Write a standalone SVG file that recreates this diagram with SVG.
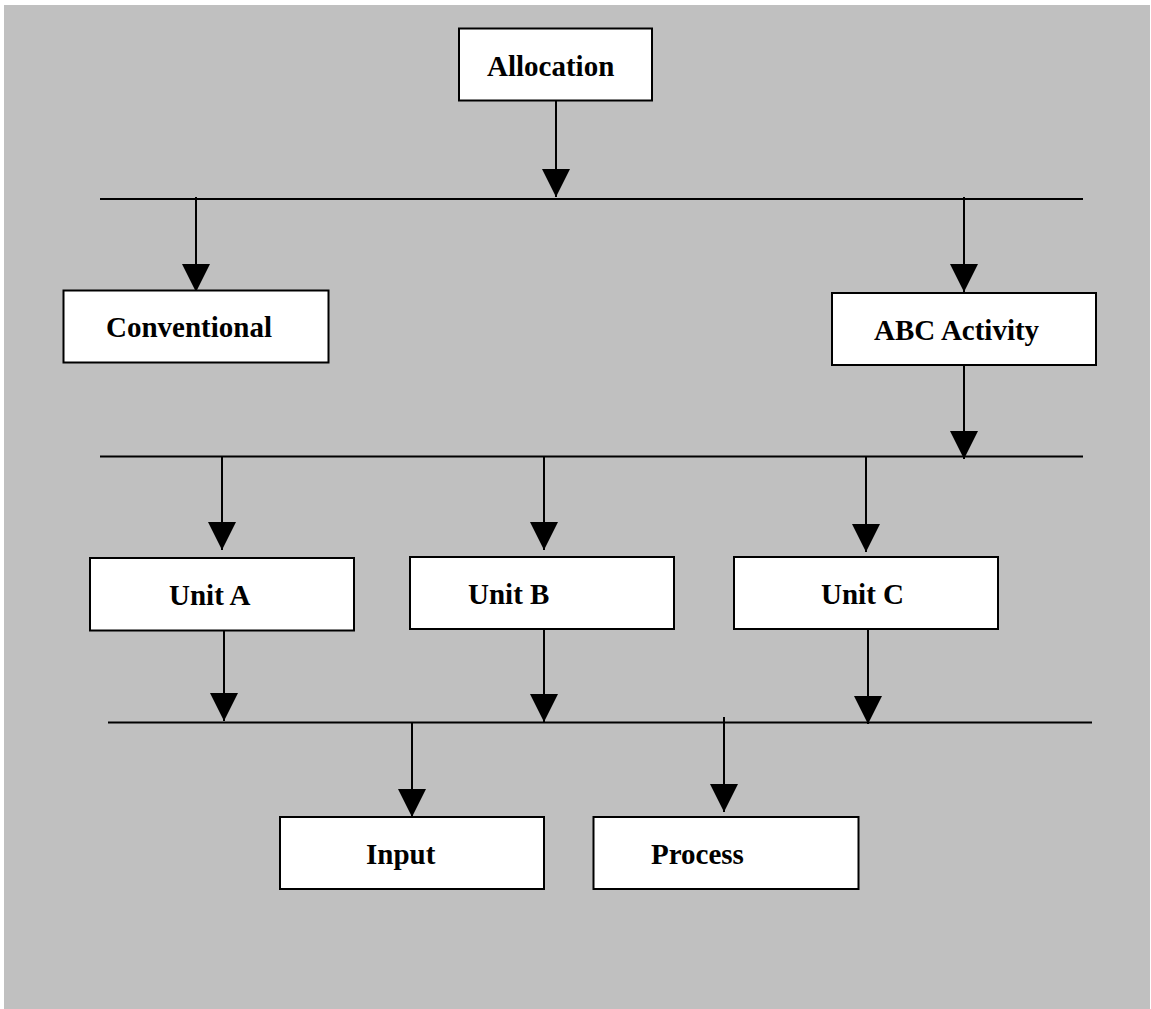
<svg xmlns="http://www.w3.org/2000/svg" width="1151" height="1009" viewBox="0 0 1151 1009">
<style>
.box{fill:#ffffff;stroke:#000000;stroke-width:2}
.lbl{font-family:"Liberation Serif","Times New Roman",serif;font-weight:bold;font-size:29px;fill:#000000}
.wire{stroke:#000000;stroke-width:2;fill:none}
.arr{stroke:#000000;stroke-width:2;fill:none;marker-end:url(#ah)}
</style>
<defs>
<marker id="ah" markerUnits="userSpaceOnUse" markerWidth="28" markerHeight="28" viewBox="0 0 28 28" refX="28" refY="14" orient="auto">
<path d="M0,0 L28,14 L0,28 z" fill="#000000"/>
</marker>
</defs>
<rect x="0" y="0" width="1151" height="1009" fill="#ffffff"/>
<rect x="4" y="5" width="1146" height="1004" fill="#c0c0c0"/>
<g id="connectors">
<line class="wire" x1="100" y1="199" x2="1083" y2="199"/>
<line class="wire" x1="100" y1="456.5" x2="1083" y2="456.5"/>
<line class="wire" x1="108" y1="722.5" x2="1092" y2="722.5"/>
<line class="arr" x1="556" y1="100" x2="556" y2="197"/>
<line class="arr" x1="196" y1="197" x2="196" y2="292"/>
<line class="arr" x1="964" y1="197" x2="964" y2="292"/>
<line class="arr" x1="964" y1="365" x2="964" y2="459"/>
<line class="arr" x1="222" y1="456" x2="222" y2="550"/>
<line class="arr" x1="544" y1="456" x2="544" y2="550"/>
<line class="arr" x1="866" y1="456" x2="866" y2="552"/>
<line class="arr" x1="224" y1="625" x2="224" y2="721"/>
<line class="arr" x1="544" y1="629" x2="544" y2="722"/>
<line class="arr" x1="868" y1="629" x2="868" y2="724"/>
<line class="arr" x1="412" y1="722" x2="412" y2="817"/>
<line class="arr" x1="724" y1="717" x2="724" y2="812"/>
</g>
<g id="allocation">
<rect class="box" x="459" y="28.5" width="193" height="72"/>
<text class="lbl" x="487" y="76">Allocation</text>
</g>
<g id="conventional">
<rect class="box" x="63.5" y="290.5" width="265" height="72"/>
<text class="lbl" x="106" y="337">Conventional</text>
</g>
<g id="abc-activity">
<rect class="box" x="832" y="293" width="264" height="72"/>
<text class="lbl" x="874" y="340">ABC Activity</text>
</g>
<g id="unit-a">
<rect class="box" x="90" y="558" width="264" height="72.5"/>
<text class="lbl" x="169" y="605">Unit A</text>
</g>
<g id="unit-b">
<rect class="box" x="410" y="557" width="264" height="72"/>
<text class="lbl" x="468" y="604">Unit B</text>
</g>
<g id="unit-c">
<rect class="box" x="734" y="557" width="264" height="72"/>
<text class="lbl" x="821" y="604">Unit C</text>
</g>
<g id="input">
<rect class="box" x="280" y="817" width="264" height="72"/>
<text class="lbl" x="366" y="864">Input</text>
</g>
<g id="process">
<rect class="box" x="593.5" y="817" width="265" height="72"/>
<text class="lbl" x="651" y="864">Process</text>
</g>
</svg>
